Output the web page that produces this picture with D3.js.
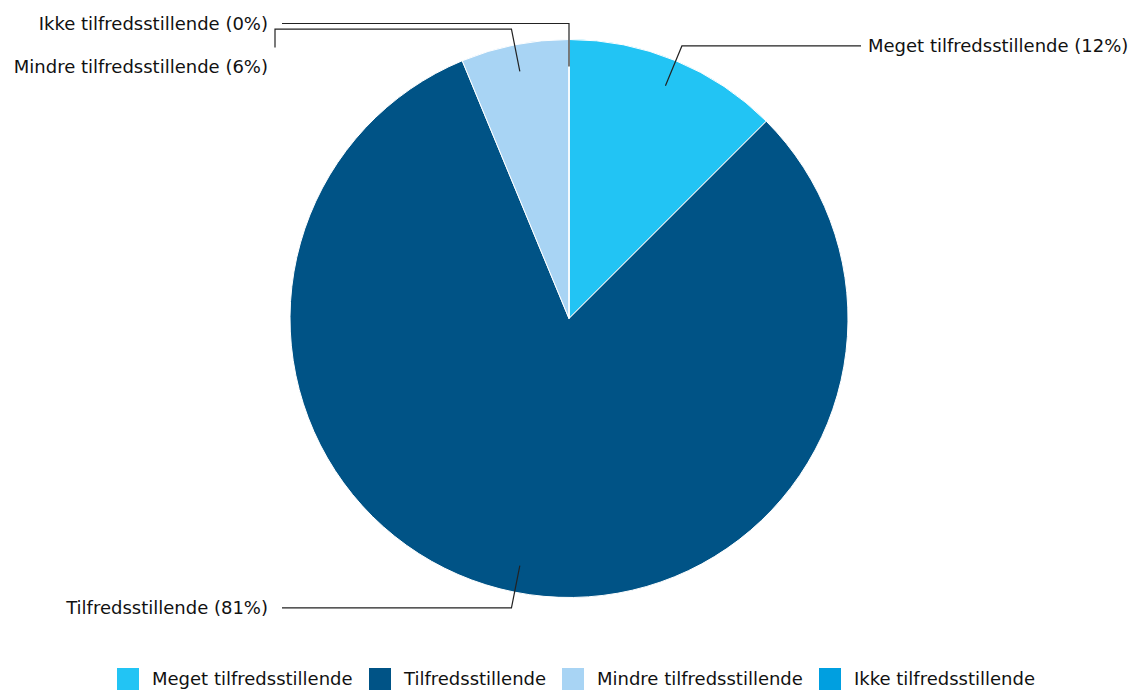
<!DOCTYPE html>
<html>
<head>
<meta charset="utf-8">
<script src="https://cdn.jsdelivr.net/npm/d3@7"></script>
<style>
html,body{margin:0;padding:0;background:#fff;}
</style>
</head>
<body>
<svg id="chart" width="1135" height="690"></svg>
<script>
const categories = ["Meget tilfredsstillende","Tilfredsstillende","Mindre tilfredsstillende","Ikke tilfredsstillende"];
const values = [2, 13, 1, 0];
const percentLabels = ["12%","81%","6%","0%"];
const colors = ["#22c4f4","#005386","#a8d4f4","#009fe0"];

const W = 1135, H = 690;
const cx = 569, cy = 318.5, r = 279;
const fontSize = 18;
const FONT = "DejaVu Sans";
const svg = d3.select("#chart");

const data = categories.map((c,i)=>({name:c, value:values[i], pct:percentLabels[i], color:colors[i]}));
const pie = d3.pie().value(d=>d.value).sort(null);
const arcs = pie(data);
const arc = d3.arc().innerRadius(0).outerRadius(r);

const g = svg.append("g").attr("transform",`translate(${cx},${cy})`);
g.selectAll("path.slice").data(arcs).join("path")
  .attr("class","slice")
  .attr("d",arc)
  .attr("fill",d=>d.data.color)
  .attr("stroke","#fff").attr("stroke-width",1).attr("stroke-linejoin","round");

const innerR = r - 27, elbowR = r + 16, labelGap = 21, minSpacing = 43;
const items = arcs.map(a=>{
  const mid = (a.startAngle + a.endAngle)/2;
  const p1 = [Math.sin(mid)*innerR, -Math.cos(mid)*innerR];
  const p2 = [Math.sin(mid)*elbowR, -Math.cos(mid)*elbowR];
  const right = Math.sin(mid) > 1e-6;
  return {a, mid, p1, p2, right, y: p2[1]};
});
["left","right"].forEach(side=>{
  const list = items.filter(d=> (side==="right") === d.right).sort((a,b)=>a.y-b.y);
  for(let i=1;i<list.length;i++){
    if(list[i].y - list[i-1].y < minSpacing) list[i].y = list[i-1].y + minSpacing;
  }
});

const lg = svg.append("g").attr("transform",`translate(${cx},${cy})`);
items.forEach(d=>{
  const lx = d.right ? r + labelGap : -(r + labelGap);
  let pts;
  if (Math.abs(d.y - d.p2[1]) < 1) {
    const ex = d.right ? lx - 8 : lx + 13;
    pts = [d.p1, d.p2, [ex, d.p2[1]]];
  } else {
    const ex = lx + (d.right ? -6 : 6);
    pts = [d.p1, d.p2, [ex, d.p2[1]], [ex, d.y - 19]];
  }
  lg.append("path")
    .attr("d", d3.line()(pts))
    .attr("fill","none").attr("stroke","#222").attr("stroke-width",1.2);
  lg.append("text")
    .attr("x", lx - 1)
    .attr("y", d.y)
    .attr("dy","0.35em")
    .attr("text-anchor", d.right ? "start" : "end")
    .attr("font-family", FONT)
    .attr("font-size", fontSize)
    .attr("fill","#111")
    .text(`${d.a.data.name} (${d.a.data.pct})`);
});

const legendX = [117, 369, 562, 819];
const leg = svg.append("g");
data.forEach((d,i)=>{
  const it = leg.append("g").attr("transform",`translate(${legendX[i]},668)`);
  it.append("rect").attr("width",22).attr("height",22).attr("fill",d.color);
  it.append("text").attr("x",35).attr("y",11).attr("dy","0.35em")
    .attr("font-family", FONT)
    .attr("font-size",fontSize).attr("fill","#111").text(d.name);
});
</script>
</body>
</html>
